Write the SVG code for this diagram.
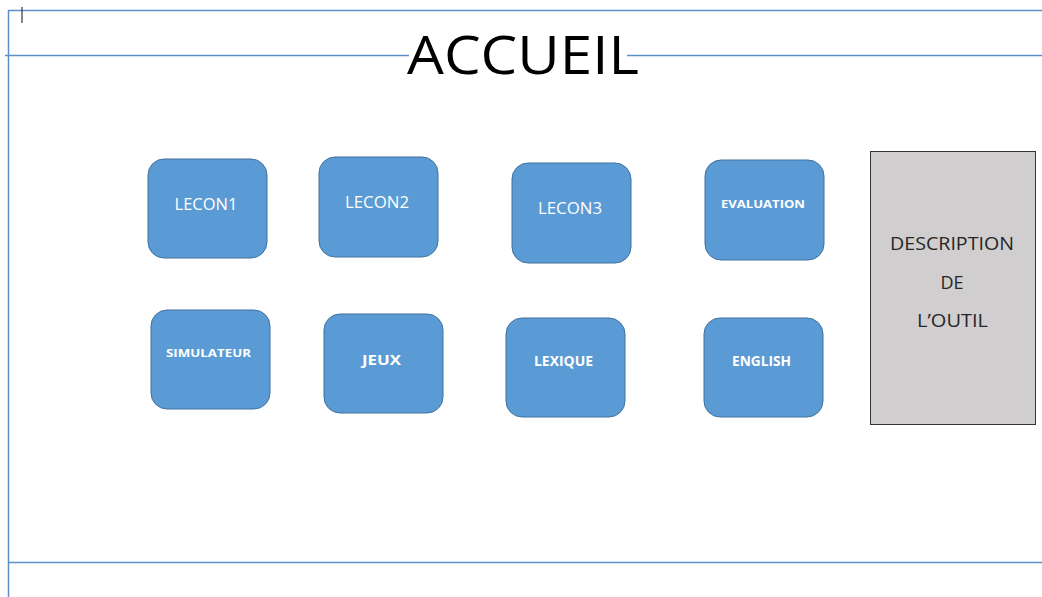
<svg xmlns="http://www.w3.org/2000/svg" width="1042" height="597" viewBox="0 0 1042 597">
<style>
.frame{stroke:#5b8fc7;stroke-width:1.5;fill:none}
.btn{fill:#5b9bd5;stroke:#41719c;stroke-width:1}
.lbl{fill:#ffffff;font-family:"Open Sans","Liberation Sans",sans-serif;text-anchor:middle}
.desc{fill:#262626;font-family:"Open Sans","Liberation Sans",sans-serif;font-size:18px;text-anchor:middle}
</style>
<rect width="1042" height="597" fill="#ffffff"/>
<g id="frame">
<line class="frame" x1="8" y1="10.5" x2="1042" y2="10.5"/>
<line class="frame" x1="8.5" y1="10" x2="8.5" y2="597"/>
<line class="frame" x1="5" y1="55.5" x2="1042" y2="55.5" stroke="#7fb0e0"/>
<line class="frame" x1="8" y1="562.5" x2="1042" y2="562.5" stroke="#6fa5dc"/>
<line x1="22" y1="7" x2="22" y2="23" stroke="#444" stroke-width="1.3"/>
</g>
<g id="title">
<rect x="409" y="45" width="218" height="20" fill="#ffffff"/>
<text x="523" y="74" font-family="Open Sans,Liberation Sans,sans-serif" font-size="53" text-anchor="middle" fill="#000" textLength="232" lengthAdjust="spacingAndGlyphs">ACCUEIL</text>
</g>
<g id="lecon1"><rect class="btn" x="148" y="159" width="119" height="99" rx="16"/><text class="lbl" x="206" y="210" font-size="15.5" textLength="63" lengthAdjust="spacingAndGlyphs">LECON1</text></g>
<g id="lecon2"><rect class="btn" x="319" y="157" width="119" height="100" rx="16"/><text class="lbl" x="377" y="208" font-size="15.5" textLength="64" lengthAdjust="spacingAndGlyphs">LECON2</text></g>
<g id="lecon3"><rect class="btn" x="512" y="163" width="119" height="100" rx="16"/><text class="lbl" x="570" y="214" font-size="15.5" textLength="64" lengthAdjust="spacingAndGlyphs">LECON3</text></g>
<g id="evaluation"><rect class="btn" x="705" y="160" width="119" height="100" rx="16"/><text class="lbl" x="763" y="208" font-size="11" font-weight="bold" textLength="84" lengthAdjust="spacingAndGlyphs">EVALUATION</text></g>
<g id="simulateur"><rect class="btn" x="151" y="310" width="119" height="99" rx="16"/><text class="lbl" x="208.5" y="357" font-size="11" font-weight="bold" textLength="85" lengthAdjust="spacingAndGlyphs">SIMULATEUR</text></g>
<g id="jeux"><rect class="btn" x="324" y="314" width="119" height="99" rx="16"/><text class="lbl" x="381.5" y="365" font-size="15" font-weight="bold" textLength="39" lengthAdjust="spacingAndGlyphs">JEUX</text></g>
<g id="lexique"><rect class="btn" x="506" y="318" width="119" height="99" rx="16"/><text class="lbl" x="563.5" y="366" font-size="13.5" font-weight="bold" textLength="59" lengthAdjust="spacingAndGlyphs">LEXIQUE</text></g>
<g id="english"><rect class="btn" x="704" y="318" width="119" height="99" rx="16"/><text class="lbl" x="761.5" y="366" font-size="13.5" font-weight="bold" textLength="59" lengthAdjust="spacingAndGlyphs">ENGLISH</text></g>
<g id="description">
<rect x="870.5" y="151.5" width="165" height="273" fill="#d0cece" stroke="#333333" stroke-width="1"/>
<text class="desc" x="952" y="250" textLength="124" lengthAdjust="spacingAndGlyphs">DESCRIPTION</text>
<text class="desc" x="952" y="289">DE</text>
<text class="desc" x="952.5" y="327" textLength="71" lengthAdjust="spacingAndGlyphs">L’OUTIL</text>
</g>
<g id="connectors"></g>
</svg>
